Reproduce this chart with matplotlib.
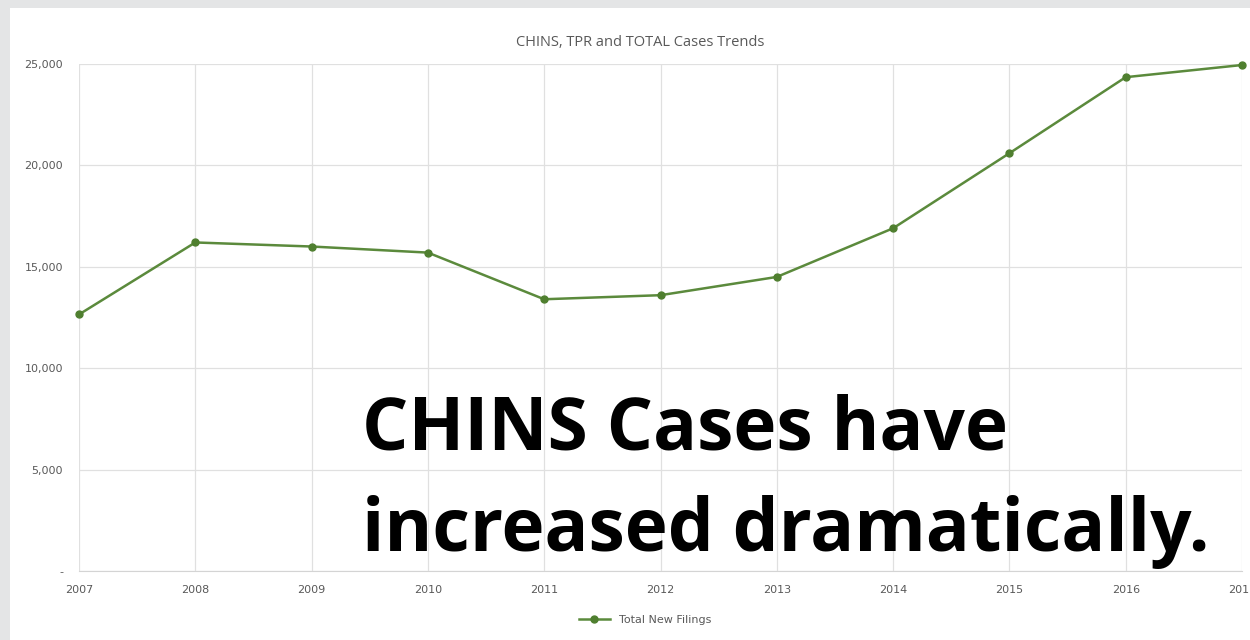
import matplotlib
matplotlib.use("Agg")
import matplotlib.pyplot as plt
from matplotlib.ticker import FuncFormatter

years = [2007, 2008, 2009, 2010, 2011, 2012, 2013, 2014, 2015, 2016, 2017]
total_new_filings = [12650, 16200, 16000, 15700, 13400, 13600, 14500, 16900, 20600, 24350, 24950]
y_ticks = [0, 5000, 10000, 15000, 20000, 25000]
title = "CHINS, TPR and TOTAL Cases Trends"
series_name = "Total New Filings"
overlay_line1 = "CHINS Cases have"
overlay_line2 = "increased dramatically."

W, H = 1250, 640
fig = plt.figure(figsize=(W / 100, H / 100), dpi=100)
fig.patch.set_facecolor("#e4e5e6")
# white chart panel
fig.patches.append(plt.Rectangle((10 / W, 0), 1, 1 - 8 / H, transform=fig.transFigure,
                                 facecolor="white", edgecolor="none", zorder=-10))

ax = fig.add_axes([79 / W, 1 - 571 / H, (1242 - 79) / W, (571 - 64) / H])
ax.set_facecolor("white")
ax.plot(years, total_new_filings, color="#5b8a3c", lw=1.8, marker="o", ms=5,
        mfc="#4f7f2f", mec="#4f7f2f", clip_on=False, zorder=3, label=series_name)
ax.set_xlim(years[0], years[-1])
ax.set_ylim(0, 25000)
ax.set_yticks(y_ticks)
ax.set_xticks(years)
ax.yaxis.set_major_formatter(FuncFormatter(lambda v, p: "-" if v == 0 else f"{int(v):,}"))
ax.grid(True, color="#e0e0e0", lw=0.9)
ax.set_axisbelow(True)
for s in ["top", "right", "left"]:
    ax.spines[s].set_visible(False)
ax.spines["bottom"].set_color("#d4d4d4")
ax.tick_params(length=0, colors="#595959", labelsize=8)
ax.tick_params(axis="y", pad=11.5)
ax.tick_params(axis="x", pad=10)

fig.text(640 / W, 1 - 42 / H, title, ha="center", va="center", fontsize=10.5,
         color="#595959", family="Open Sans")

leg = fig.legend(loc="center", bbox_to_anchor=(645 / W, 1 - 620 / H), frameon=False,
                 fontsize=8, handlelength=2.8, labelcolor="#595959")

fig.text(362 / W, 1 - 450 / H, overlay_line1, ha="left", va="baseline", fontsize=52.5,
         fontweight="bold", family="Open Sans", color="black")
fig.text(362 / W, 1 - 551 / H, overlay_line2, ha="left", va="baseline", fontsize=52.5,
         fontweight="bold", family="Open Sans", color="black")

fig.savefig("out.png", dpi=100)
